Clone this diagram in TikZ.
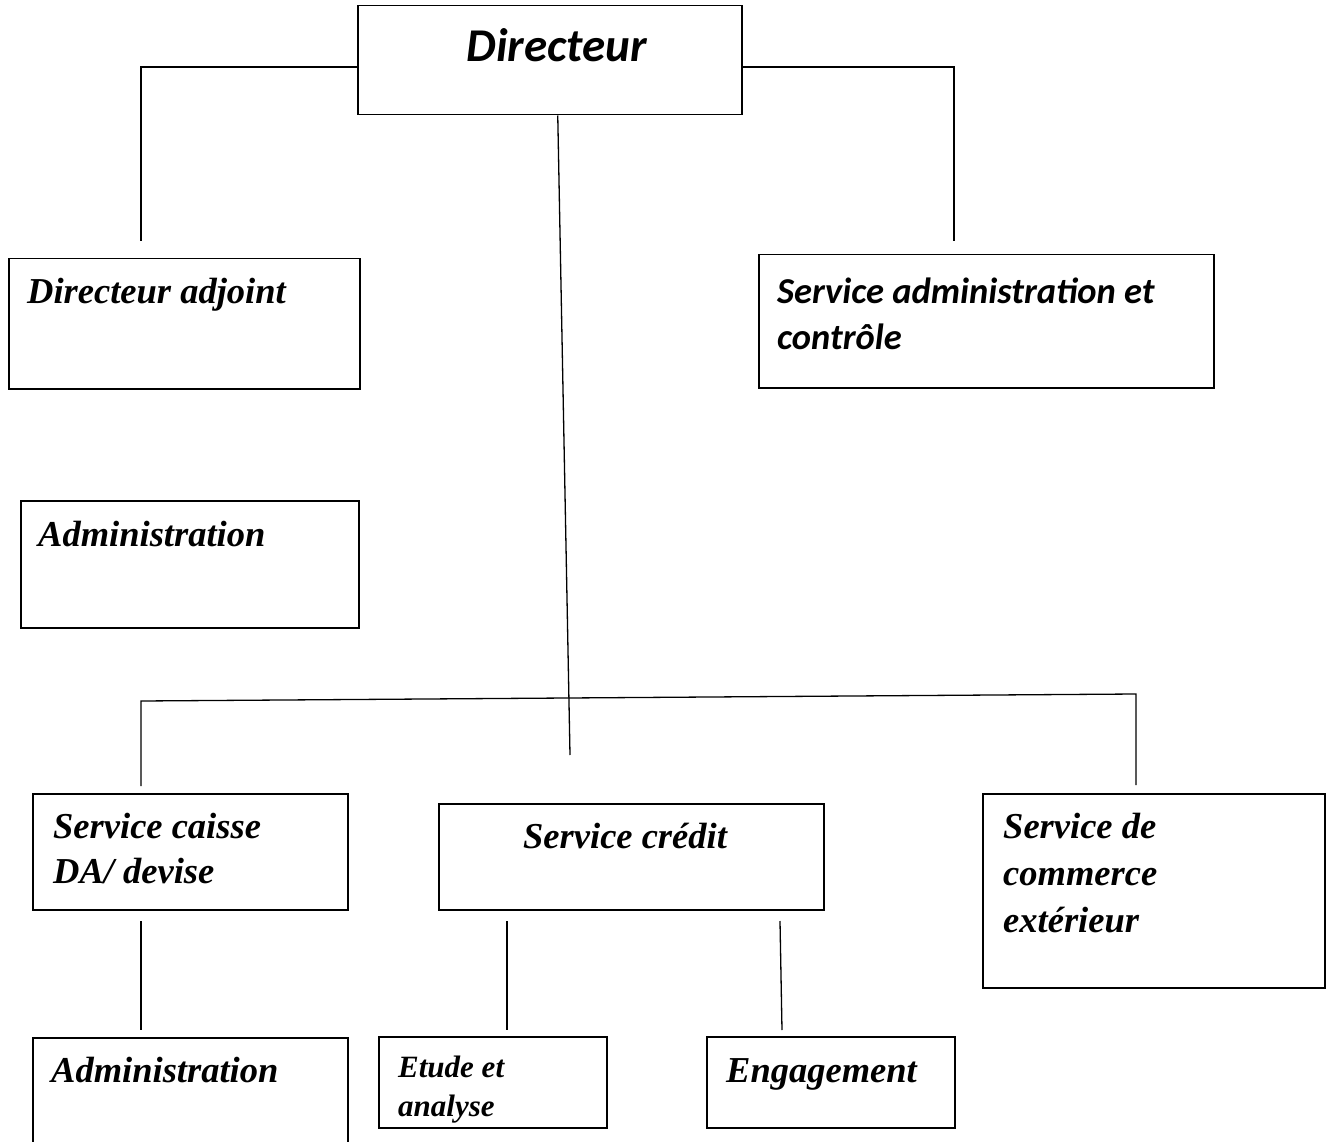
\documentclass[tikz,border=0pt]{standalone}
\usepackage{fontspec}
\newfontfamily\calfont{Carlito}
\newfontfamily\timfont{Liberation Serif}
\begin{document}
\begin{tikzpicture}[x=1pt,y=-1pt,
  box/.style={draw,line width=1.5pt,rectangle,inner sep=0pt,anchor=north west},
  lbl/.style={inner sep=0pt,anchor=base west},
  calib/.style={font=\calfont\bfseries\itshape\fontsize{36.5}{47}\selectfont},
  tim/.style={font=\timfont\bfseries\itshape\fontsize{36.5}{45.5}\selectfont},
  conn/.style={line width=1.3pt}]
\useasboundingbox (0,0) rectangle (1334,1142);
% boxes
\node[box,minimum width=384,minimum height=109] (dir) at (357,5) {};
\node[box,minimum width=351,minimum height=130] (adj) at (8,258) {};
\node[box,minimum width=455,minimum height=133] (sac) at (758,254) {};
\node[box,minimum width=338,minimum height=127] (adm1) at (20,500) {};
\node[box,minimum width=315,minimum height=116] (caisse) at (32,793) {};
\node[box,minimum width=385,minimum height=106] (credit) at (438,803) {};
\node[box,minimum width=342,minimum height=194] (comm) at (982,793) {};
\node[box,minimum width=315,minimum height=125] (adm2) at (32,1037) {};
\node[box,minimum width=228,minimum height=91] (etude) at (378,1036) {};
\node[box,minimum width=248,minimum height=91] (eng) at (706,1036) {};
% texts
\node[inner sep=0pt,anchor=base,font=\calfont\bfseries\itshape\fontsize{47}{56}\selectfont] (tdir) at (557,62) {Directeur};
\node[lbl,tim] (tadj) at (27,303) {Directeur adjoint};
\node[lbl,calib] (tsac) at (777,303) {\begin{tabular}[t]{@{}l@{}}Service administration et\\ contrôle\end{tabular}};
\node[lbl,tim] (tadm1) at (38,546) {Administration};
\node[lbl,tim] (tcaisse) at (53,838) {\begin{tabular}[t]{@{}l@{}}Service caisse\\ DA/ devise\end{tabular}};
\node[lbl,tim] (tcredit) at (523,848) {Service crédit};
\node[lbl,tim,font=\timfont\bfseries\itshape\fontsize{36.5}{47}\selectfont] (tcomm) at (1003,838) {\begin{tabular}[t]{@{}l@{}}Service de\\ commerce\\ extérieur\end{tabular}};
\node[lbl,tim] (tadm2) at (51,1082) {Administration};
\node[lbl,font=\timfont\bfseries\itshape\fontsize{31}{39}\selectfont] (tetude) at (398,1077) {\begin{tabular}[t]{@{}l@{}}Etude et\\ analyse\end{tabular}};
\node[lbl,tim] (teng) at (726,1082) {Engagement};
% connector points
\coordinate (a1) at (141,67);
\coordinate (a2) at (141,241);
\coordinate (b1) at (954,67);
\coordinate (b2) at (954,241);
\coordinate (c1) at (570,755);
\coordinate (h1) at (141,701);
\coordinate (h2) at (1136,694);
\coordinate (h1d) at (141,786);
\coordinate (h2d) at (1136,785);
\coordinate (d1) at (141,921);
\coordinate (d2) at (141,1030);
\coordinate (e1) at (507,921);
\coordinate (e2) at (507,1030);
\coordinate (f1) at (780,921);
\coordinate (f2) at (782,1030);
% connectors
\draw[conn] (dir.west |- a1) -- (a1) -- (a2);
\draw[conn] (dir.east |- b1) -- (b1) -- (b2);
\draw[conn] ([xshift=8pt]dir.south) -- (c1);
\draw[conn] (h1d) -- (h1) -- (h2) -- (h2d);
\draw[conn] (d1) -- (d2);
\draw[conn] (e1) -- (e2);
\draw[conn] (f1) -- (f2);
\end{tikzpicture}
\end{document}
